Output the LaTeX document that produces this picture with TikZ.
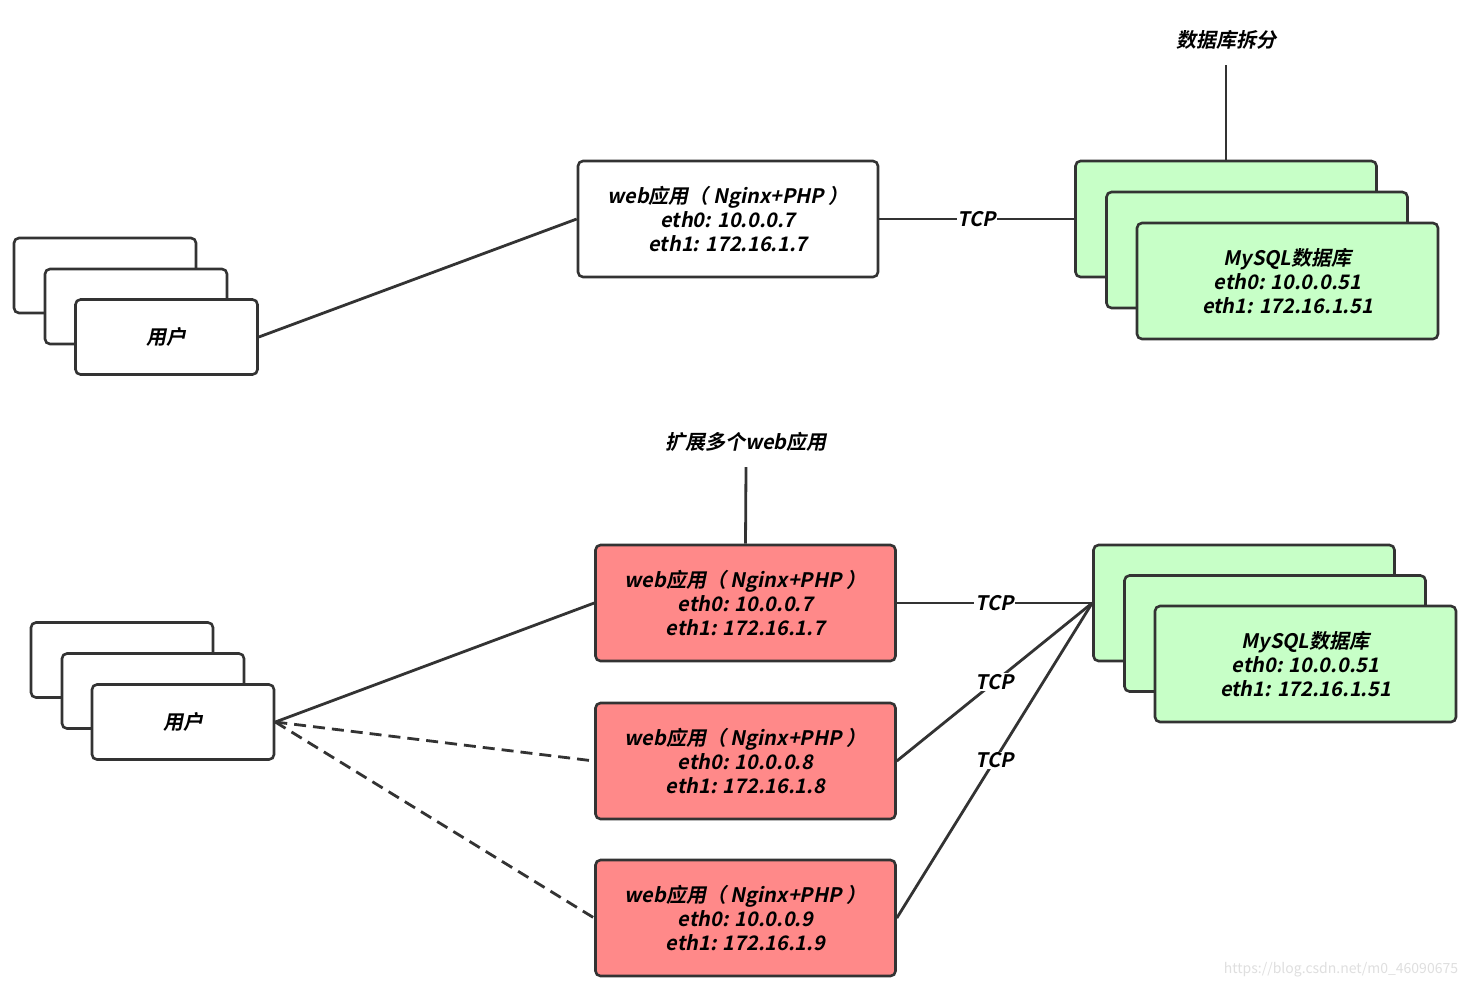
\documentclass[tikz,border=0pt]{standalone}
\usepackage{fontspec}
\setmainfont{Noto Sans CJK SC}[FakeSlant=0.2, BoldFont={Noto Sans CJK SC Bold}, BoldFeatures={FakeSlant=0.2}]
\newfontfamily\markfont{Noto Sans CJK SC}
\usepackage{tikz}
\usetikzlibrary{positioning,calc}
\usepackage{xcolor}
\definecolor{web-red}{RGB}{255,137,137}
\definecolor{db-green}{RGB}{199,255,199}
\definecolor{edge-gray}{RGB}{51,51,51}

\begin{document}
\begin{tikzpicture}[x=1pt, y=-1pt,
    box/.style={rectangle, draw=edge-gray, line width=2.6pt, fill=white, rounded corners=5pt, align=center, inner sep=0pt, font=\bfseries\fontsize{20}{24}\selectfont},
    userbox/.style={box, minimum width=182pt, minimum height=75pt},
    webbox/.style={box, minimum width=300pt, minimum height=116pt},
    dbbox/.style={box, fill=db-green, minimum width=301pt, minimum height=116pt},
    title/.style={font=\bfseries\fontsize{20}{24}\selectfont},
    link/.style={draw=edge-gray, line width=2.8pt},
    tcp/.style={fill=white, inner sep=1pt, font=\bfseries\fontsize{20}{24}\selectfont}]

    \useasboundingbox[fill=white] (0,0) rectangle (1474,989);

    % Top - users
    \node[userbox] (usrA1) at (105,275.5) {};
    \node[userbox] (usrA2) at (136,306.5) {};
    \node[userbox] (usrA3) at (166.5,337) {用户};
    % Top - web
    \node[webbox] (webA) at (728,219) {web应用（ Nginx+PHP ）\\eth0: 10.0.0.7\\eth1: 172.16.1.7};
    % Top - database
    \node[title] (splitdb) at (1226,40) {数据库拆分};
    \node[dbbox] (dbA1) at (1226,219) {};
    \node[dbbox] (dbA2) at (1257,250) {};
    \node[dbbox] (dbA3) at (1287.5,281) {MySQL数据库\\eth0: 10.0.0.51\\eth1: 172.16.1.51};

    \draw[link] (usrA3.east) -- (webA.west);
    \draw[link] (webA.east) -- node[tcp] {TCP} (dbA1.west);
    \draw[link] (splitdb.south) ++(0,12) -- (dbA1.north);

    % Bottom - users
    \node[userbox] (usrB1) at (122,660) {};
    \node[userbox] (usrB2) at (153,691) {};
    \node[userbox] (usrB3) at (183,722) {用户};
    % Bottom - web
    \node[title] (moreweb) at (746,442) {扩展多个web应用};
    \node[webbox, fill=web-red] (webB1) at (745.5,603) {web应用（ Nginx+PHP ）\\eth0: 10.0.0.7\\eth1: 172.16.1.7};
    \node[webbox, fill=web-red] (webB2) at (745.5,761) {web应用（ Nginx+PHP ）\\eth0: 10.0.0.8\\eth1: 172.16.1.8};
    \node[webbox, fill=web-red] (webB3) at (745.5,918) {web应用（ Nginx+PHP ）\\eth0: 10.0.0.9\\eth1: 172.16.1.9};
    % Bottom - database
    \node[dbbox] (dbB1) at (1244,603) {};
    \node[dbbox] (dbB2) at (1275,633.5) {};
    \node[dbbox] (dbB3) at (1305.5,664) {MySQL数据库\\eth0: 10.0.0.51\\eth1: 172.16.1.51};

    \draw[link] (moreweb.south) ++(0,12) -- (webB1.north);
    \draw[link] (usrB3.east) -- (webB1.west);
    \draw[link, dashed, dash pattern=on 12pt off 7pt] (usrB3.east) -- (webB2.west);
    \draw[link, dashed, dash pattern=on 12pt off 7pt] (usrB3.east) -- (webB3.west);
    \draw[link] (webB1.east) -- node[tcp] {TCP} (dbB1.west);
    \draw[link] (webB2.east) -- node[tcp] {TCP} (dbB1.west);
    \draw[link] (webB3.east) -- node[tcp] {TCP} (dbB1.west);

    \node[text=gray!25, font=\markfont\fontsize{14}{16}\selectfont] (mark) at (1341,970) {https://blog.csdn.net/m0\_46090675};
\end{tikzpicture}
\end{document}
